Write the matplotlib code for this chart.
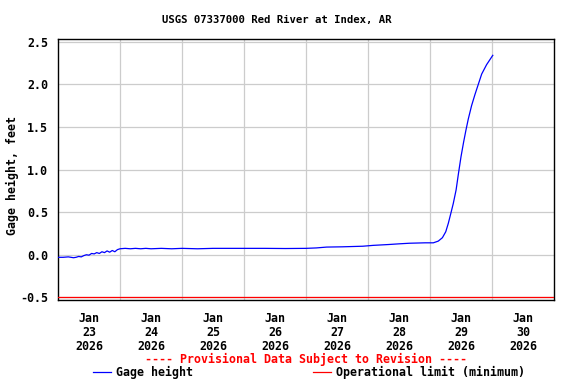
import matplotlib
matplotlib.use("Agg")
import matplotlib.pyplot as plt
from matplotlib.lines import Line2D
from datetime import datetime, timedelta

# hours after 2026-01-23 00:00 and gage height (ft)
hours = [0, 2, 4, 6, 7, 8, 9, 10, 11, 12, 13, 14, 15, 16, 17, 18, 19, 20, 21, 22,
         23, 24, 26, 28, 30, 32, 34, 36, 40, 44, 48, 54, 60, 66, 72, 80, 88, 96,
         100, 104, 110, 118, 122, 128, 132, 136, 142.1, 145.3, 147.2,
         148.8, 150.1, 151.1, 152.1, 153.0, 154.1, 155.0, 156.0, 157.0, 157.9,
         158.8, 160.1, 161.4, 162.7, 164.0, 165.9, 168.3]
gage = [-0.03, -0.03, -0.025, -0.035, -0.03, -0.02, -0.025, -0.01, 0.0, -0.005, 0.015,
        0.01, 0.025, 0.015, 0.035, 0.025, 0.045, 0.03, 0.05, 0.035, 0.06, 0.07, 0.075,
        0.07, 0.075, 0.07, 0.075, 0.07, 0.075, 0.07, 0.075, 0.07, 0.075, 0.075, 0.075,
        0.075, 0.073, 0.075, 0.08, 0.09, 0.093, 0.10, 0.11, 0.12, 0.128, 0.135,
        0.14, 0.14, 0.16, 0.20, 0.27, 0.37, 0.49, 0.60, 0.76, 0.95,
        1.15, 1.32, 1.46, 1.59, 1.75, 1.88, 2.00, 2.12, 2.23, 2.34]
op_limit = -0.5
yticks = [-0.5, 0.0, 0.5, 1.0, 1.5, 2.0, 2.5]
ytick_labels = ["-0.5", "0.0", "0.5", "1.0", "1.5", "2.0", "2.5"]
days = [23, 24, 25, 26, 27, 28, 29, 30]

start = datetime(2026, 1, 23)
times = [start + timedelta(hours=h) for h in hours]

plt.rcParams['font.family'] = 'DejaVu Sans Mono'
plt.rcParams['font.weight'] = 'bold'
fs = 8.4

fig = plt.figure(figsize=(5.76, 3.84), dpi=100)
ax = fig.add_axes([58/576, 1-300/384, (554-58)/576, (300-39.3)/384])

ax.plot(times, gage, color='#0000ff', lw=0.9, zorder=3)
ax.axhline(op_limit, color='#ff0000', lw=0.9, zorder=3)

ax.set_xlim(start, start + timedelta(days=8))
ax.set_ylim(-0.531, 2.528)

ax.set_yticks(yticks)
ax.set_yticklabels(ytick_labels, fontsize=fs, fontweight='bold')
ax.set_xticks([start + timedelta(days=i, hours=12) for i in range(8)])
ax.set_xticklabels(["Jan\n%d\n2026" % d for d in days], fontsize=fs,
                   fontweight='bold', linespacing=1.1)
ax.set_xticks([start + timedelta(days=i) for i in range(1, 8)], minor=True)
ax.tick_params(axis='both', which='both', length=0)
ax.tick_params(axis='y', pad=7)
ax.tick_params(axis='x', pad=9)

ax.grid(False)
ax.xaxis.grid(True, which='minor', color='#cccccc', lw=0.9)
ax.yaxis.grid(True, which='major', color='#cccccc', lw=0.9)
for s in ax.spines.values():
    s.set_linewidth(1.0)

fig.text(277/576, 1-20/384, "USGS 07337000 Red River at Index, AR", ha='center',
         va='center', fontsize=7.7, fontweight='bold')
fig.text(12/576, 1-175.5/384, "Gage height, feet", rotation=90, ha='center',
         va='center', fontsize=fs, fontweight='bold')
fig.text(306/576, 1-359/384, "---- Provisional Data Subject to Revision ----",
         ha='center', va='center', fontsize=fs, fontweight='bold', color='#ff0000')

ly = 1-372/384
fig.add_artist(Line2D([93/576, 111/576], [ly, ly], color='#0000ff', lw=0.9,
                      transform=fig.transFigure))
fig.text(116.5/576, ly, "Gage height", ha='left', va='center', fontsize=fs,
         fontweight='bold')
fig.add_artist(Line2D([313/576, 331/576], [ly, ly], color='#ff0000', lw=0.9,
                      transform=fig.transFigure))
fig.text(336.5/576, ly, "Operational limit (minimum)", ha='left', va='center',
         fontsize=fs, fontweight='bold')

fig.savefig("out.png", dpi=100, facecolor='white')
